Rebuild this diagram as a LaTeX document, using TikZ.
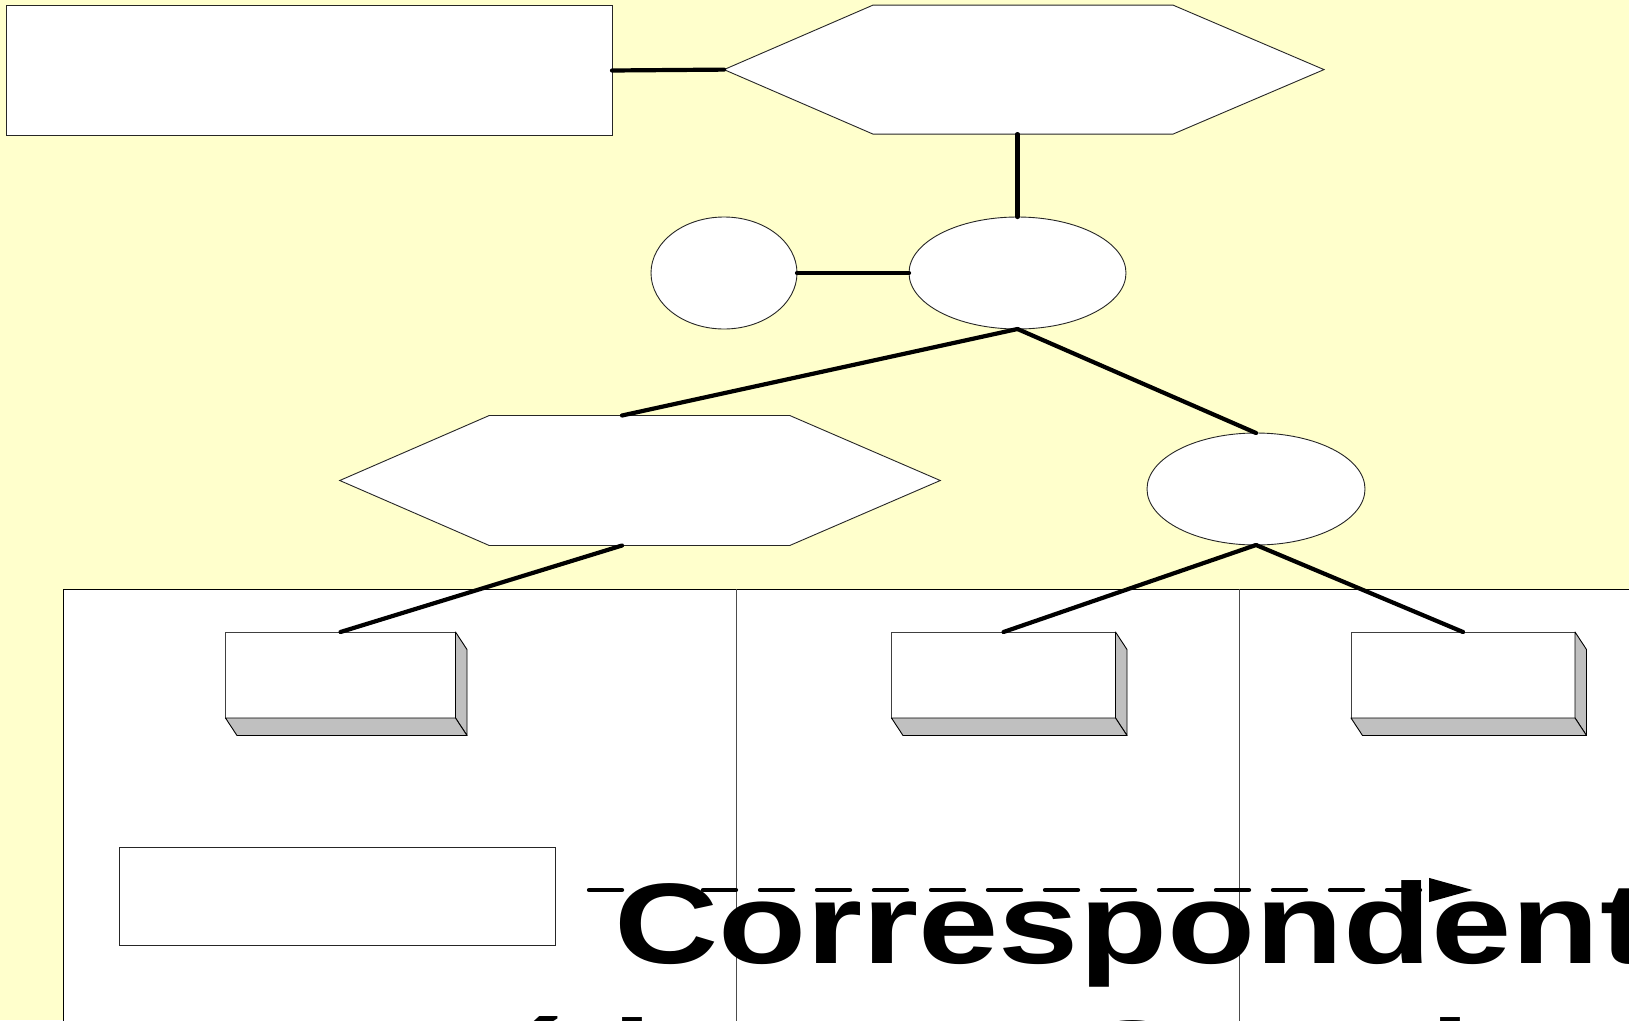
\documentclass[tikz,border=0pt]{standalone}
\usepackage{fontspec}
\newfontfamily\bigfont{Liberation Sans}[FakeStretch=1.26]
\usetikzlibrary{shapes.geometric,arrows.meta,calc}
\definecolor{bgyellow}{HTML}{FFFFCC}
\definecolor{sidegray}{HTML}{C0C0C0}
\tikzset{
  outline/.style={draw=black!85, line width=0.9pt},
  hexbox/.style={draw=none, inner sep=0pt, outer sep=0pt},
  oval/.style={ellipse, outline, fill=white, inner sep=0pt, outer sep=0pt},
  plainbox/.style={rectangle, outline, fill=white, inner sep=0pt, outer sep=0pt},
  facebox/.style={rectangle, draw=black!75, line width=0.9pt, fill=white, inner sep=0pt, outer sep=0pt, minimum height=86},
  sideface/.style={fill=sidegray, draw=black, line width=0.9pt, line join=round},
  link/.style={draw=black, line width=4.2pt, line cap=round},
  dasharrow/.style={draw=black, line width=4.2pt, line cap=round, dash pattern=on 33pt off 24pt, -{Triangle[length=44pt,width=23pt]}},
  bigtext/.style={anchor=base west, inner sep=0pt, font=\bigfont\bfseries\fontsize{114.5}{132}\selectfont}
}
\begin{document}
\begin{tikzpicture}[x=1pt,y=-1pt]
\useasboundingbox (0,0) rectangle (1629,1020);
\begin{scope}
\clip (0,0) rectangle (1629,1020);
\fill[bgyellow] (0,0) rectangle (1629,1020);
% lower white panel
\fill[white] (63,589) rectangle (1640,1030);
\draw[black, line width=0.9pt] (63,1030) -- (63,589) -- (1640,589);
\draw[black!70, line width=0.9pt] (736,589) -- (736,1030);
\draw[black!70, line width=0.9pt] (1239,589) -- (1239,1030);

% top-left rectangle
\node[plainbox, minimum width=606, minimum height=130] (toprect) at (309,70.5) {};
% top hexagon
\node[hexbox, minimum width=600, minimum height=129] (hexA) at (1024,69.6) {};
\draw[outline, fill=white] (hexA.west) -- ([xshift=149]hexA.north west) -- ([xshift=-151]hexA.north east) -- (hexA.east) -- ([xshift=-151]hexA.south east) -- ([xshift=149]hexA.south west) -- cycle;
% ellipses
\node[oval, minimum width=146, minimum height=112] (ovSmall) at (724,273) {};
\node[oval, minimum width=217, minimum height=112] (ovBig) at (1017.5,273) {};
\node[oval, minimum width=218, minimum height=112] (ovRight) at (1256,489) {};
% middle hexagon
\node[hexbox, minimum width=600.5, minimum height=130] (hexB) at (640,480.5) {};
\draw[outline, fill=white] (hexB.west) -- ([xshift=149.5]hexB.north west) -- ([xshift=-150.5]hexB.north east) -- (hexB.east) -- ([xshift=-150.5]hexB.south east) -- ([xshift=149.5]hexB.south west) -- cycle;
\coordinate (hexBtop) at ([xshift=-18]hexB.north);
\coordinate (hexBbot) at ([xshift=-18]hexB.south);

% 3D boxes
\foreach \nm/\cx/\w in {boxL/340.5/230, boxM/1003.5/224, boxR/1463/224} {
  \node[facebox, minimum width=\w] (\nm) at (\cx,675) {};
  \draw[sideface] (\nm.north east) -- ++(11.5,17.5) -- ++(0,86) -- (\nm.south east) -- cycle;
  \draw[sideface] (\nm.south west) -- (\nm.south east) -- ++(11.5,17.5) -- ++(-\w,0) -- cycle;
}

% small lower rectangle
\node[plainbox, minimum width=436, minimum height=97.5] (lowrect) at (337.5,896.5) {};

% connectors
\draw[link] (toprect.east) -- (hexA.west);
\draw[link] (ovBig.north) -- (ovBig.north |- hexA.south);
\draw[link] (ovSmall.east) -- (ovBig.west);
\draw[link] (ovBig.south) -- (hexBtop);
\draw[link] (ovBig.south) -- (ovRight.north);
\draw[link] (hexBbot) -- (boxL.north);
\draw[link] (ovRight.south) -- (boxM.north);
\draw[link] (ovRight.south) -- (boxR.north);

% big text
\node[bigtext] (txtA) at (614,963) {Correspondent};
\node[bigtext] (txtB) at (492,1100) {é la nou Canal};

% dashed arrow
\coordinate (arrS) at (589,890);
\coordinate (arrE) at (1473,890);
\draw[dasharrow] (arrS) -- (arrE);
\end{scope}
\end{tikzpicture}
\end{document}
